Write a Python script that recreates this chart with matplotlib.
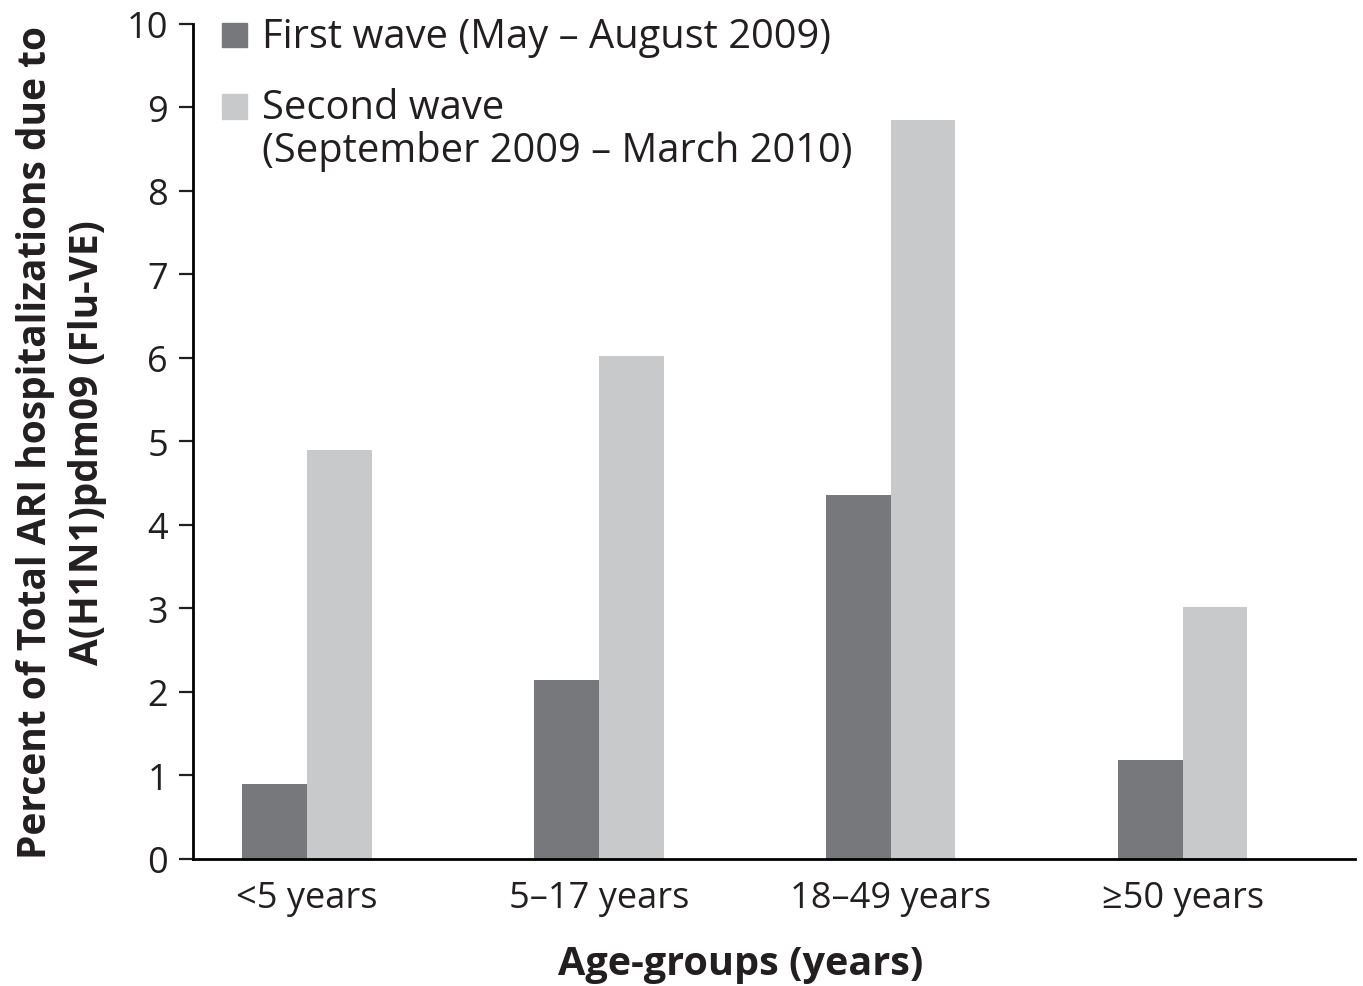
import numpy as np
import matplotlib
matplotlib.use("Agg")
import matplotlib.pyplot as plt
from matplotlib.patches import Rectangle

# data
age_groups = ["<5 years", "5\u201317 years", "18\u201349 years", "\u226550 years"]
first_wave = [0.90, 2.14, 4.36, 1.19]
second_wave = [4.90, 6.02, 8.85, 3.02]
wave_labels = ["First wave (May \u2013 August 2009)",
               "Second wave\n(September 2009 \u2013 March 2010)"]

dark = "#77787b"
light = "#c8c9cb"
ink = "#231f20"

plt.rcParams['font.family'] = ['Open Sans', 'DejaVu Sans']

fig = plt.figure(figsize=(13.63, 9.87), dpi=100)
ax = fig.add_axes([0.1416, 0.1287, 0.9940 - 0.1416, 0.9747 - 0.1287])

x = np.arange(len(age_groups))
w = 0.222
ax.bar(x - w / 2, first_wave, w, color=dark)
ax.bar(x + w / 2, second_wave, w, color=light)

ax.set_xlim(-0.39, 3.59)
ax.set_ylim(0, 10)
ax.set_yticks(range(0, 11))
ax.set_xticks(x)
ax.set_xticklabels(age_groups)

for s in ["top", "right"]:
    ax.spines[s].set_visible(False)
ax.spines["left"].set_linewidth(2)
ax.spines["bottom"].set_linewidth(2)
ax.tick_params(axis="y", length=10, width=1.6, pad=8, labelsize=26, colors=ink)
ax.tick_params(axis="x", length=0, pad=15, labelsize=26, colors=ink)

ax.set_ylabel("Percent of Total ARI hospitalizations due to\nA(H1N1)pdm09 (Flu-VE)",
              fontsize=28, fontweight="bold", color=ink, labelpad=14,
              linespacing=1.45)
ax.set_xlabel("Age-groups (years)", fontsize=28.5, fontweight="bold", color=ink)
ax.xaxis.set_label_coords(0.4716, -0.102)

# legend drawn by hand so the square sits next to the first line
ax.add_patch(Rectangle((0.025, 0.972), 0.0215, 0.0287, color=dark,
                       transform=ax.transAxes, clip_on=False))
ax.add_patch(Rectangle((0.025, 0.886), 0.0215, 0.0299, color=light,
                       transform=ax.transAxes, clip_on=False))
ax.text(0.0594, 0.985, wave_labels[0], transform=ax.transAxes,
        fontsize=28.7, va="center", color=ink)
ax.text(0.0594, 0.874, wave_labels[1], transform=ax.transAxes,
        fontsize=28.7, va="center", color=ink, linespacing=1.05)

fig.savefig("out.png", dpi=100)
